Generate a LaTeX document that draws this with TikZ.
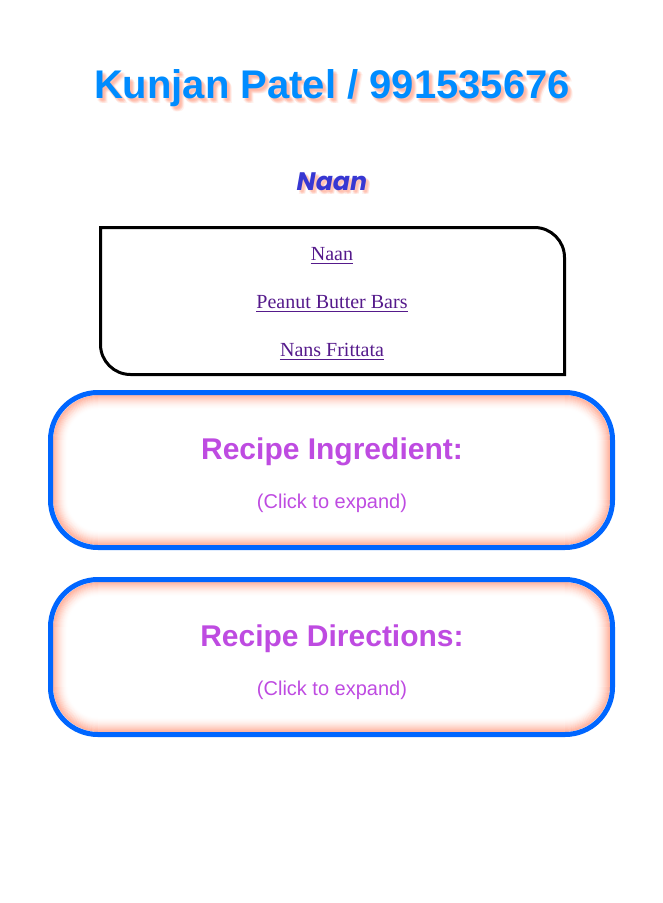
\documentclass[tikz,border=0pt]{standalone}
\usepackage{fontspec}
\setmainfont{Liberation Serif}
\setsansfont{Liberation Sans}
\newfontfamily\headfont{Poppins}
\definecolor{titleblue}{RGB}{0,140,255}
\definecolor{naanblue}{RGB}{55,55,210}
\definecolor{linkpurple}{RGB}{85,26,139}
\definecolor{boxblue}{RGB}{0,102,255}
\definecolor{glow}{RGB}{255,160,135}
\definecolor{recipepurple}{RGB}{190,75,225}
\tikzset{
  x=0.75pt, y=0.75pt,
  link/.style={font=\fontsize{15pt}{18pt}\selectfont, text=linkpurple, anchor=base, inner sep=0pt},
  rtitle/.style={font=\sffamily\bfseries\fontsize{22.5pt}{26pt}\selectfont, text=recipepurple, anchor=base, inner sep=0pt},
  rclick/.style={font=\sffamily\fontsize{15pt}{18pt}\selectfont, text=recipepurple, anchor=base, inner sep=0pt},
  bluebox/.style={draw=boxblue, line width=3.75pt, rounded corners=35.6pt},
}
\newcommand{\glowbox}[4]{%
  \foreach \k in {0,...,14}{
    \pgfmathsetmacro{\op}{0.75*(1-\k/15)^2}
    \pgfmathsetmacro{\rr}{max(34-0.75*\k,2)}
    \draw[glow, line width=0.9pt, opacity=\op, rounded corners=\rr pt]
      (#1+\k+0.6,-#2-\k-0.6) rectangle (#3-\k-0.6,-#4+\k+0.6);
  }%
}
\begin{document}
\begin{tikzpicture}
\useasboundingbox (0,0) rectangle (663,-903);
% title with soft shadow
\foreach \dx/\dy in {2/2,3/3,4/4,3/2,2/4,4/3,5/5,1/3,3/5}{
  \node[font=\sffamily\bfseries\fontsize{30pt}{36pt}\selectfont, text=glow, opacity=0.14, anchor=base, inner sep=0pt]
    at (332+\dx,-98-\dy) {Kunjan Patel / 991535676};
}
\node[font=\sffamily\bfseries\fontsize{30pt}{36pt}\selectfont, text=titleblue, anchor=base, inner sep=0pt]
  (title) at (332,-98) {Kunjan Patel / 991535676};
% Naan heading
\foreach \dx/\dy in {2/2,3/3,4/4,3/2,2/4,4/3}{
  \node[font=\headfont\bfseries\itshape\fontsize{19pt}{22pt}\selectfont, text=glow, opacity=0.16, anchor=base, inner sep=0pt]
    at (332+\dx,-190-\dy) {Naan};
}
\node[font=\headfont\bfseries\itshape\fontsize{19pt}{22pt}\selectfont, text=naanblue, anchor=base, inner sep=0pt]
  (heading) at (332,-190) {Naan};
% list box
\draw[line width=2.25pt] (100.5,-227.5) -- (534.5,-227.5) arc[start angle=90, end angle=0, radius=30]
  -- (564.5,-374.5) -- (130.5,-374.5) arc[start angle=270, end angle=180, radius=30] -- cycle;
\node[link] (l1) at (332,-260) {Naan};
\node[link] (l2) at (332,-308) {Peanut Butter Bars};
\node[link] (l3) at (332,-356) {Nans Frittata};
\foreach \n in {l1,l2,l3}{
  \draw[linkpurple, line width=1.1pt] ([yshift=-2.6pt]\n.base west) -- ([yshift=-2.6pt]\n.base east);
}
% box 1
\glowbox{53}{395}{610}{545}
\draw[bluebox] (50.5,-392.5) rectangle (612.5,-547.5);
\node[rtitle] (r1) at (332,-459) {Recipe Ingredient:};
\node[rclick] (c1) at (332,-508) {(Click to expand)};
% box 2
\glowbox{53}{582}{610}{732}
\draw[bluebox] (50.5,-579.5) rectangle (612.5,-734.5);
\node[rtitle] (r2) at (332,-646) {Recipe Directions:};
\node[rclick] (c2) at (332,-695) {(Click to expand)};
\end{tikzpicture}
\end{document}
